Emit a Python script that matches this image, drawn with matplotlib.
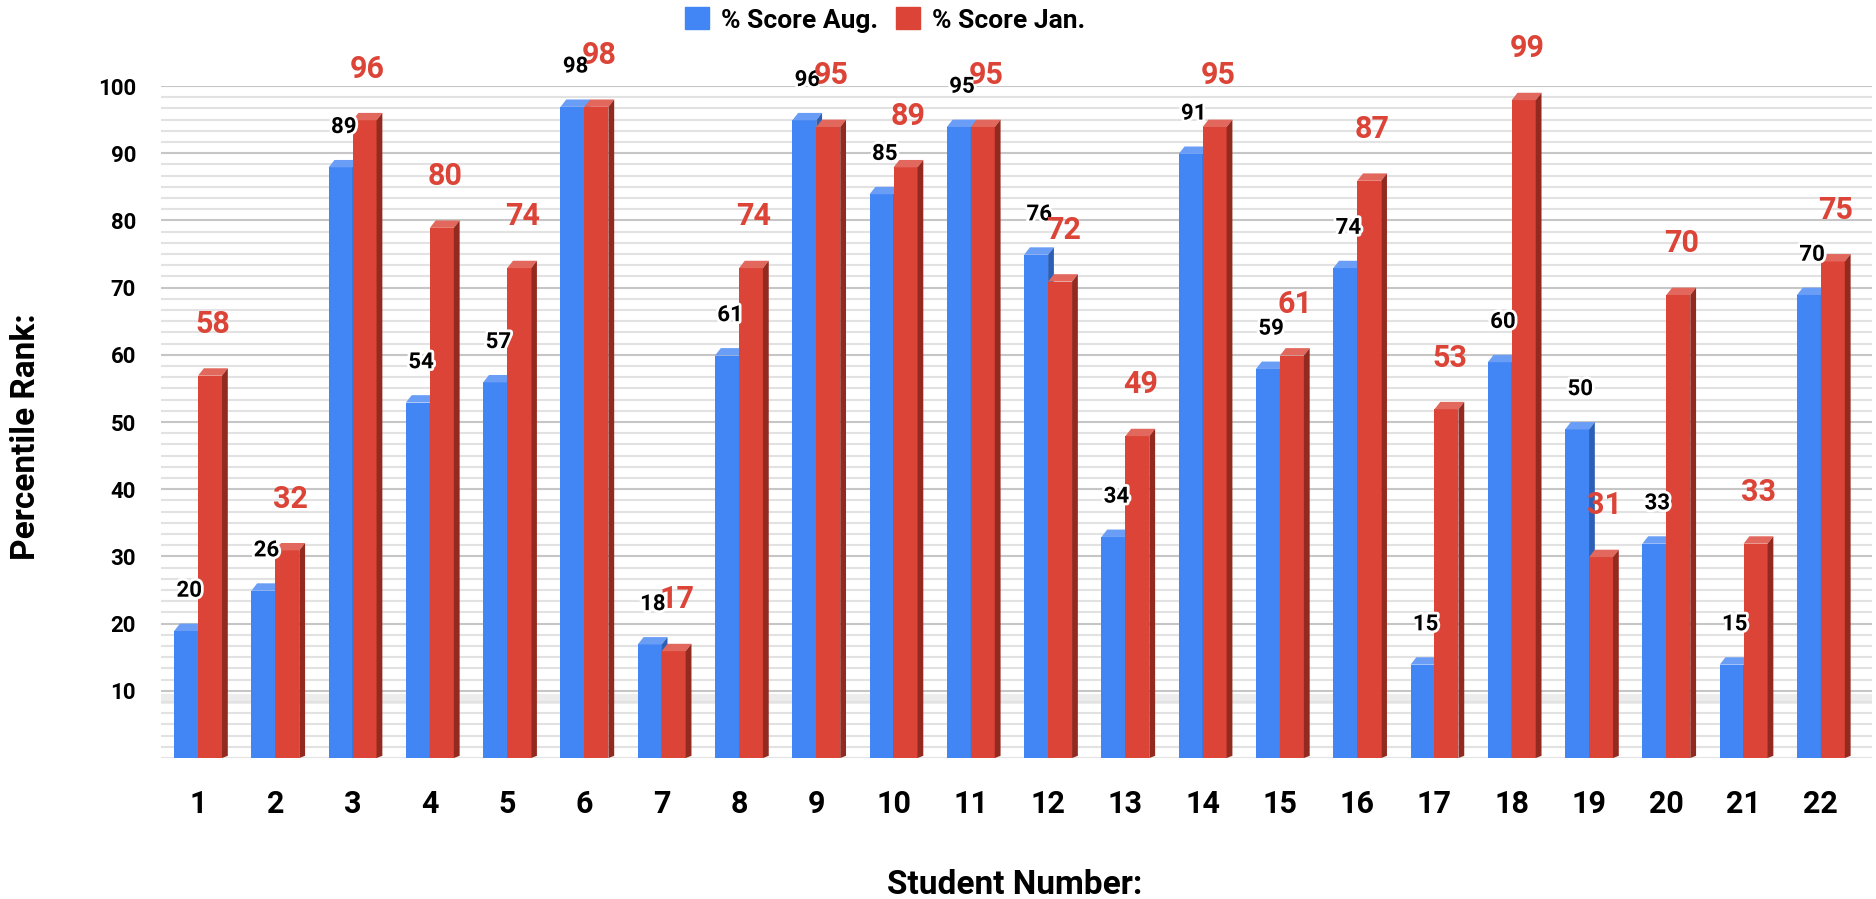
import matplotlib.pyplot as plt
import matplotlib.patheffects as pe
from matplotlib.patches import Polygon, Patch
import numpy as np

# dati
studenti = [str(i) for i in range(1, 23)]
score_aug = [20, 26, 89, 54, 57, 98, 18, 61, 96, 85, 95, 76, 34, 91, 59, 74, 15, 60, 50, 33, 15, 70]
score_jan = [58, 32, 96, 80, 74, 98, 17, 74, 95, 89, 95, 72, 49, 95, 61, 87, 53, 99, 31, 70, 33, 75]

blu = '#4285F4'
blu_top = '#6a9ef6'
blu_lato = '#2c5fb5'
rosso = '#DB4437'
rosso_top = '#e2685d'
rosso_lato = '#922a20'

plt.rcParams['font.family'] = ['Roboto', 'DejaVu Sans']

fig = plt.figure(figsize=(18.76, 8.99), dpi=100)
ax = fig.add_axes([0.0858, 0.1568, 0.912, 0.7475])

x = np.arange(len(studenti))
w = 0.31
dx = 0.075   # profondita' 3d
dy = 1.1

def barre_3d(xs, valori, col, col_top, col_lato):
    alt = [v - dy for v in valori]
    bars = ax.bar(xs, alt, width=w, color=col, zorder=3)
    for b in bars:
        x0 = b.get_x()
        x1 = x0 + b.get_width()
        h = b.get_height()
        top = Polygon([(x0, h), (x1, h), (x1 + dx, h + dy), (x0 + dx, h + dy)],
                      closed=True, color=col_top, zorder=3, lw=0)
        lato = Polygon([(x1, 0), (x1 + dx, dy * 0.3), (x1 + dx, h + dy), (x1, h)],
                       closed=True, color=col_lato, zorder=3, lw=0)
        ax.add_patch(top)
        ax.add_patch(lato)

barre_3d(x - w / 2, score_aug, blu, blu_top, blu_lato)
barre_3d(x + w / 2, score_jan, rosso, rosso_top, rosso_lato)

# etichette dei valori
for i in range(len(studenti)):
    ax.text(x[i] - w / 2 + 0.04, score_aug[i] + 4.9, str(score_aug[i]), ha='center', va='center',
            fontsize=16, fontweight='bold', color='black', zorder=5,
            path_effects=[pe.withStroke(linewidth=4, foreground='white')])
    ax.text(x[i] + w / 2 + 0.04, score_jan[i] + 6.6, str(score_jan[i]), ha='center', va='center',
            fontsize=22, fontweight='bold', color=rosso, zorder=6)

ax.set_xlim(-0.48, 21.66)
ax.set_ylim(0, 100)
ax.axhspan(8.0, 9.6, color='#ececec', zorder=0, lw=0)

ax.set_yticks(range(10, 101, 10))
ax.set_yticks(np.arange(0, 100.01, 10 / 6), minor=True)
ax.yaxis.grid(True, which='major', color='#c6c6c6', lw=1.5, zorder=0)
ax.yaxis.grid(True, which='minor', color='#e2e2e2', lw=1.5, zorder=0)
ax.set_axisbelow(True)
ax.set_xticks(x)
ax.set_xticklabels(studenti)
ax.tick_params(axis='y', length=0, pad=18, labelsize=16)
ax.tick_params(axis='x', length=0, pad=22, labelsize=22)
for t in ax.get_yticklabels() + ax.get_xticklabels():
    t.set_fontweight('bold')
ax.tick_params(axis='y', which='minor', length=0)
for s in ax.spines.values():
    s.set_visible(False)

fig.text(26 / 1876, 1 - 437 / 899, 'Percentile Rank:', rotation=90, ha='center', va='center',
         fontsize=24, fontweight='bold')
fig.text(1015 / 1876, 1 - 885 / 899, 'Student Number:', ha='center', va='center',
         fontsize=24, fontweight='bold')

maniglie = [Patch(color=blu, label='% Score Aug.'), Patch(color=rosso, label='% Score Jan.')]
fig.legend(handles=maniglie, loc='center', bbox_to_anchor=(885 / 1876, 1 - 20 / 899), ncol=2,
           frameon=False, prop={'size': 19, 'weight': 'bold'}, handlelength=0.9, handleheight=0.9,
           handletextpad=0.45, columnspacing=0.7)

fig.savefig('out.png', dpi=100)
